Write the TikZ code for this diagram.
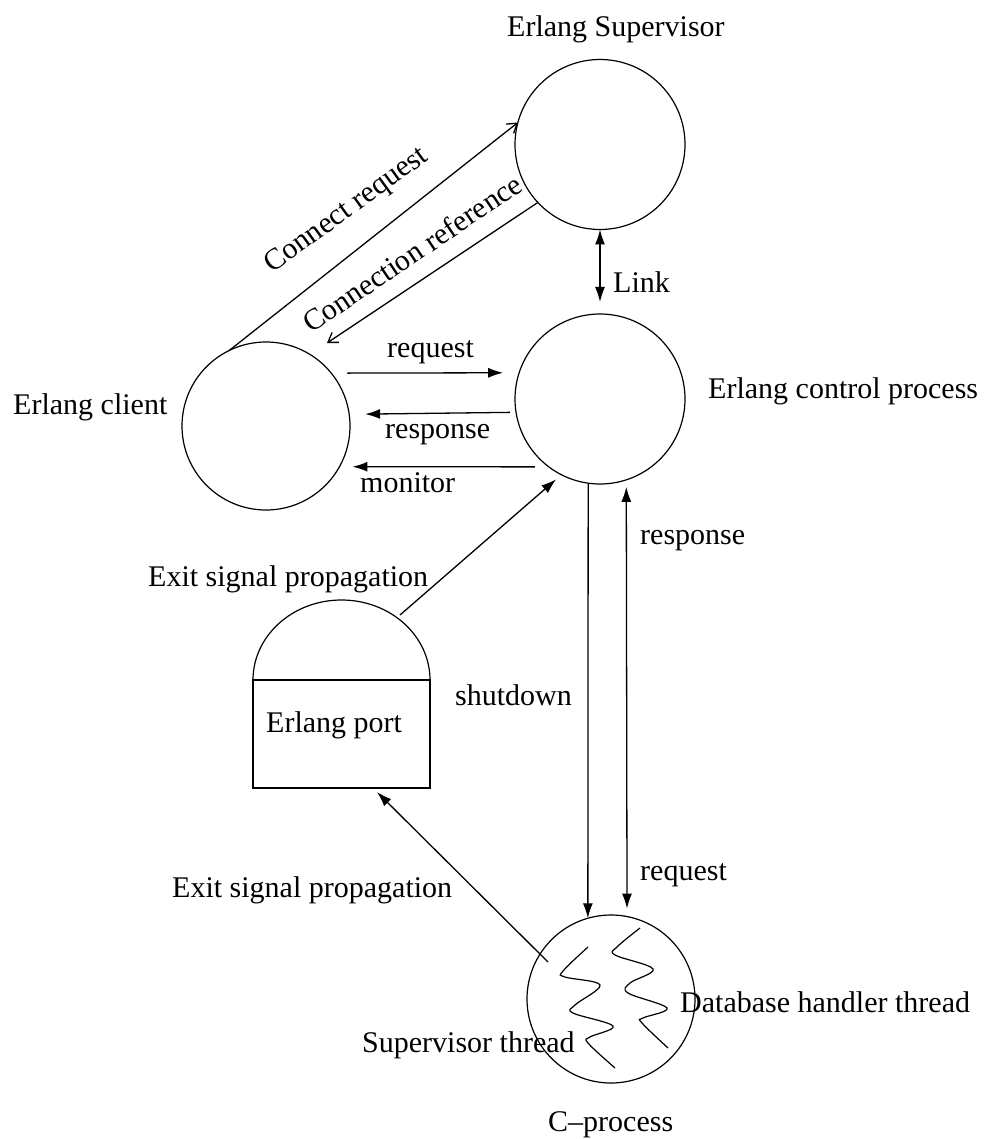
\documentclass[tikz,border=0pt]{standalone}
\usepackage{fontspec}
\setmainfont{Liberation Serif}
\usetikzlibrary{arrows.meta}
\begin{document}
\begin{tikzpicture}[x=1pt,y=-1pt,
  proc/.style={circle,draw,line width=1.2pt,inner sep=0pt,outer sep=0pt},
  lbl/.style={font=\fontsize{30}{36}\selectfont,inner sep=0pt,anchor=base west},
  conn/.style={line width=1.3pt},
  fat/.style={conn,-{Latex[length=15pt,width=10pt]}},
  fatboth/.style={conn,{Latex[length=15pt,width=10pt]}-{Latex[length=15pt,width=10pt]}},
  thinarr/.style={conn,-{Straight Barb[length=9pt,width=12pt]}},
]
\useasboundingbox (0,0) rectangle (991,1139);

% circles
\node[proc,minimum size=170pt] (sup) at (600,144.5) {};
\node[proc,minimum size=170pt] (ctrl) at (600,399) {};
\node[proc,minimum size=168pt] (client) at (266,426) {};
\node[proc,minimum size=168pt] (cproc) at (611,999) {};

% Erlang port
\node[draw,line width=1.3pt,minimum width=177pt,minimum height=108pt,inner sep=0pt,outer sep=0pt] (port) at (341.5,734) {};
\draw[line width=1.2pt] (port.north west) arc[start angle=180,end angle=0,x radius=88.5pt,y radius=80pt];

% labels
\node[lbl] (lsup) at (507,37) {Erlang Supervisor};
\node[lbl] (lclient) at (13,414) {Erlang client};
\node[lbl] (lctrl) at (708,398) {Erlang control process};
\node[lbl] (llink) at (613,292) {Link};
\node[lbl] (lreq) at (387,357) {request};
\node[lbl] (lresp) at (385,438) {response};
\node[lbl] (lmon) at (360,492) {monitor};
\node[lbl] (lexit1) at (148,586) {Exit signal propagation};
\node[lbl] (lport) at (266,732) {Erlang port};
\node[lbl] (lshut) at (455,705) {shutdown};
\node[lbl] (lresp2) at (640,544) {response};
\node[lbl] (lreq2) at (640,880) {request};
\node[lbl] (lexit2) at (172,897) {Exit signal propagation};
\node[lbl] (ldb) at (680,1012) {Database handler thread};
\node[lbl] (lsupth) at (362,1052) {Supervisor thread};
\node[lbl] (lcp) at (548,1131) {C--process};
\node[font=\fontsize{30}{36}\selectfont,inner sep=0pt,rotate=36] (lcr) at (347,211) {Connect request};
\node[font=\fontsize{30}{36}\selectfont,inner sep=0pt,rotate=34] (lcref) at (412,253) {Connection reference};

% connectors
\coordinate (crtip) at (327,343);
\draw[thinarr] (client.116) -- (sup.165);
\draw[thinarr] (sup.223) -- (crtip);

\draw[fatboth,shorten >=12pt] (sup.south) -- (ctrl.north);

\draw[fat,shorten <=16pt,shorten >=16pt] (client.39) -- (ctrl.162);
\draw[fat,shorten <=6pt,shorten >=16pt] (ctrl.189.5) -- (client.8.9);
\draw[fat,shorten <=14pt,shorten >=13pt] (ctrl.233.1) -- (client.-29.2);

\coordinate (domept) at (400,615);
\draw[fat,shorten >=7pt] (domept) -- (ctrl.243);

\draw[fat] (ctrl.262) -- (cproc.106);
\draw[fatboth,shorten <=7pt,shorten >=8pt] (ctrl.288.5) -- (cproc.79);

\coordinate (cpin) at (548,962);
\coordinate (porttip) at (377,792);
\draw[fat] (cpin) -- (porttip);

% threads
\draw[line width=1.2pt] plot[smooth,tension=0.6] coordinates {(588,947) (563,971) (565,977) (600,985) (575,1005) (573,1013) (613,1026) (590,1037) (588,1043) (615,1068)};
\draw[line width=1.2pt] plot[smooth,tension=0.6] coordinates {(640,928) (617,947) (615,955) (653,969) (630,983) (628,993) (667,1008) (643,1018) (642,1023) (668,1048)};
\end{tikzpicture}
\end{document}
